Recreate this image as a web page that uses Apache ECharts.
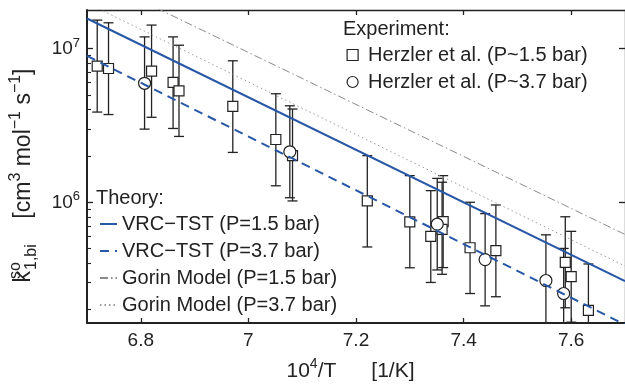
<!DOCTYPE html>
<html><head><meta charset="utf-8">
<script src="https://cdn.jsdelivr.net/npm/echarts@6/dist/echarts.min.js"></script>
<style>html,body{margin:0;padding:0;background:#fff}#c{width:625px;height:390px}</style>
</head><body><div id="c"></div>
<script>
// ---- data ----
const xTicks = [6.8, 7, 7.2, 7.4, 7.6];
const yMajorTicks = [1e6, 1e7];
const yMinorTicks = [2e5, 3e5, 4e5, 5e5, 6e5, 7e5, 8e5, 9e5, 2e6, 3e6, 4e6, 5e6, 6e6, 7e6, 8e6, 9e6];

// Herzler et al. (P~1.5 bar) - squares
const sqX  = [6.719, 6.740, 6.820, 6.860, 6.871, 6.971, 7.051, 7.082, 7.221, 7.300, 7.339, 7.362, 7.360, 7.412, 7.460, 7.589, 7.600, 7.632];
const sqY  = [7.67e6, 7.41e6, 7.13e6, 6.03e6, 5.31e6, 4.20e6, 2.56e6, 2.01e6, 1.02e6, 7.45e5, 6.00e5, 7.48e5, 6.67e5, 5.06e5, 4.85e5, 4.07e5, 3.28e5, 1.98e5];
const sqHi = [1.53e7, 1.47e7, 1.42e7, 1.19e7, 1.05e7, 8.32e6, 5.08e6, 4.04e6, 2.01e6, 1.49e6, 1.19e6, 1.49e6, 1.35e6, 1.00e6, 9.6e5, 8.05e5, 6.47e5, 3.97e5];
const sqLo = [3.86e6, 3.72e6, 3.57e6, 3.02e6, 2.68e6, 2.11e6, 1.28e6, 1.02e6, 5.12e5, 3.75e5, 3.01e5, 3.76e5, 3.40e5, 2.55e5, 2.43e5, 2.06e5, 1.66e5, 1.00e5];

// Herzler et al. (P~3.7 bar) - circles
const ciX  = [6.807, 7.077, 7.351, 7.440, 7.553, 7.586];
const ciY  = [5.94e6, 2.13e6, 7.20e5, 4.24e5, 3.10e5, 2.55e5];
const ciHi = [1.19e7, 4.24e6, 1.43e6, 8.44e5, 6.14e5, 5.01e5];
const ciLo = [2.99e6, 1.07e6, 3.63e5, 2.12e5, 1.57e5, 1.30e5];

// Theory lines (straight in log-y vs 10^4/T)
const thX    = [6.7, 7.7];
const vrc15  = [1.567e7, 3.07e5];
const vrc37  = [8.95e6, 1.60e5];
const gorin15 = [3.03e7, 6.18e5];
const gorin37 = [1.975e7, 3.85e5];

const names = {
  sq: 'Herzler et al. (P~1.5 bar)',
  ci: 'Herzler et al. (P~3.7 bar)',
  v15: 'VRC\u2212TST (P=1.5 bar)',
  v37: 'VRC\u2212TST (P=3.7 bar)',
  g15: 'Gorin Model (P=1.5 bar)',
  g37: 'Gorin Model (P=3.7 bar)'
};

// ---- build ----
const FONT = '"Liberation Sans", Arial, Helvetica, sans-serif';
const INK = '#222';
const BLUE = '#2757a6';
const X_MIN = 6.7, X_MAX = 7.7, Y_MIN = 1.64e5, Y_MAX = 1.78e7;

const zip = (a, b) => a.map((v, i) => [v, b[i]]);
const zip3 = (a, b, c) => a.map((v, i) => [v, b[i], c[i]]);

function errRender(params, api) {
  const x = api.value(0), lo = api.value(1), hi = api.value(2);
  const pHi = api.coord([x, hi]);
  const pLo = api.coord([x, lo]);
  const w = 5;
  const style = { stroke: INK, lineWidth: 1.3, fill: null };
  return {
    type: 'group',
    children: [
      { type: 'line', shape: { x1: pHi[0], y1: pHi[1], x2: pLo[0], y2: pLo[1] }, style },
      { type: 'line', shape: { x1: pHi[0] - w, y1: pHi[1], x2: pHi[0] + w, y2: pHi[1] }, style },
      { type: 'line', shape: { x1: pLo[0] - w, y1: pLo[1], x2: pLo[0] + w, y2: pLo[1] }, style }
    ]
  };
}

const lineSeries = (name, data, color, type, width) => ({
  name, type: 'line', data: zip(thX, data), symbol: 'none', showSymbol: false, z: 5,
  lineStyle: { color, type, width }, itemStyle: { color }, silent: true, clip: true,
  animation: false
});

const chart = echarts.init(document.getElementById('c'), null, { renderer: 'canvas' });
chart.setOption({
  animation: false,
  textStyle: { fontFamily: FONT, color: INK },
  grid: { left: 86, top: 10, right: -4, bottom: 56 },
  title: [
    { text: 'Experiment:', left: 343, top: 18, padding: 0,
      textStyle: { fontSize: 20, fontWeight: 'normal', color: INK, fontFamily: FONT, lineHeight: 22 } },
    { text: 'Theory:', left: 96, top: 187, padding: 0,
      textStyle: { fontSize: 20, fontWeight: 'normal', color: INK, fontFamily: FONT, lineHeight: 22 } }
  ],
  legend: [
    { data: [names.sq, names.ci], orient: 'vertical', left: 346.5, top: 44, padding: 0,
      itemWidth: 11, itemHeight: 11, itemGap: 5, selectedMode: false,
      itemStyle: { color: '#fff', borderColor: INK, borderWidth: 1.2 },
      textStyle: { fontSize: 20, color: INK, fontFamily: FONT, lineHeight: 22, padding: [0, 0, 0, 5] } },
    { data: [names.v15, names.v37, names.g15, names.g37], orient: 'vertical', left: 99, top: 213, padding: 0,
      itemWidth: 17, itemHeight: 8, itemGap: 5, selectedMode: false,
      itemStyle: { opacity: 0 },
      textStyle: { fontSize: 20, color: INK, fontFamily: FONT, lineHeight: 22 } }
  ],
  xAxis: [
    { type: 'value', min: X_MIN, max: X_MAX, position: 'bottom',
      name: '10{sup|4}/T      [1/K]', nameLocation: 'middle', nameGap: 34,
      nameTextStyle: { fontSize: 21, color: INK, fontFamily: FONT, lineHeight: 28, padding: [0, 11, 0, 0],
        rich: { sup: { fontSize: 14, verticalAlign: 'top', lineHeight: 14, color: INK, fontFamily: FONT } } },
      axisLine: { show: true, onZero: false, lineStyle: { color: INK, width: 2 } },
      axisTick: { show: true, inside: true, length: 5, customValues: xTicks, lineStyle: { color: INK, width: 1.3 } },
      axisLabel: { customValues: xTicks, fontSize: 19, color: INK, fontFamily: FONT, margin: 8 },
      splitLine: { show: false } },
    { type: 'value', min: X_MIN, max: X_MAX, position: 'top',
      axisLine: { show: true, onZero: false, lineStyle: { color: INK, width: 1.3 } },
      axisTick: { show: true, inside: true, length: 5, customValues: xTicks, lineStyle: { color: INK, width: 1.3 } },
      axisLabel: { show: false }, splitLine: { show: false } }
  ],
  yAxis: [
    { type: 'log', logBase: 10, min: Y_MIN, max: Y_MAX, position: 'left',
      name: 'k{sup|so}{sub|1,bi}    [cm{sup2|3} mol{sup2|\u22121} s{sup2|\u22121}]',
      nameLocation: 'middle', nameGap: 47,
      nameTextStyle: { fontSize: 23, color: INK, fontFamily: FONT, lineHeight: 32, padding: [0, 18, 0, 0],
        rich: {
          sup: { fontSize: 16, verticalAlign: 'top', lineHeight: 16, width: 1, color: INK, fontFamily: FONT },
          sub: { fontSize: 16, verticalAlign: 'bottom', lineHeight: 16, color: INK, fontFamily: FONT },
          sup2: { fontSize: 16, verticalAlign: 'top', lineHeight: 16, color: INK, fontFamily: FONT }
        } },
      axisLine: { show: true, onZero: false, lineStyle: { color: INK, width: 2 } },
      axisTick: { show: true, inside: true, length: 6, customValues: yMajorTicks, lineStyle: { color: INK, width: 1.3 } },
      axisLabel: { customValues: yMajorTicks, fontSize: 19, color: INK, fontFamily: FONT, margin: 7, lineHeight: 24,
        formatter: v => '10{sup|' + Math.round(Math.log10(v)) + '}',
        rich: { sup: { fontSize: 13, verticalAlign: 'top', lineHeight: 13, color: INK, fontFamily: FONT } } },
      splitLine: { show: false } },
    { type: 'log', logBase: 10, min: Y_MIN, max: Y_MAX, position: 'left',
      axisLine: { show: false },
      axisTick: { show: true, inside: true, length: 4, customValues: yMinorTicks, lineStyle: { color: INK, width: 1.1 } },
      axisLabel: { show: false }, splitLine: { show: false } },
    { type: 'log', logBase: 10, min: Y_MIN, max: Y_MAX, position: 'right',
      axisLine: { show: true, onZero: false, lineStyle: { color: INK, width: 1.3 } },
      axisTick: { show: true, inside: true, length: 6, customValues: yMajorTicks, lineStyle: { color: INK, width: 1.3 } },
      axisLabel: { show: false }, splitLine: { show: false } }
  ],
  series: [
    { type: 'custom', name: 'err-sq', renderItem: errRender, data: zip3(sqX, sqLo, sqHi), z: 2, clip: true, silent: true,
      encode: { x: 0, y: [1, 2] } },
    { type: 'custom', name: 'err-ci', renderItem: errRender, data: zip3(ciX, ciLo, ciHi), z: 2, clip: true, silent: true,
      encode: { x: 0, y: [1, 2] } },
    { name: names.sq, type: 'scatter', data: zip(sqX, sqY), symbol: 'rect', symbolSize: 10, z: 3,
      itemStyle: { color: '#fff', borderColor: INK, borderWidth: 1.2, opacity: 1 }, silent: true },
    { name: names.ci, type: 'scatter', data: zip(ciX, ciY), symbol: 'circle', symbolSize: 12, z: 3,
      itemStyle: { color: '#fff', borderColor: INK, borderWidth: 1.2, opacity: 1 }, silent: true },
    lineSeries(names.v15, vrc15, BLUE, 'solid', 2),
    lineSeries(names.v37, vrc37, BLUE, [9, 6], 2),
    lineSeries(names.g15, gorin15, '#8a8a8a', [8, 3, 1.5, 3], 1),
    lineSeries(names.g37, gorin37, '#9a9a9a', [1.5, 3], 1)
  ]
});
</script>
</body></html>
